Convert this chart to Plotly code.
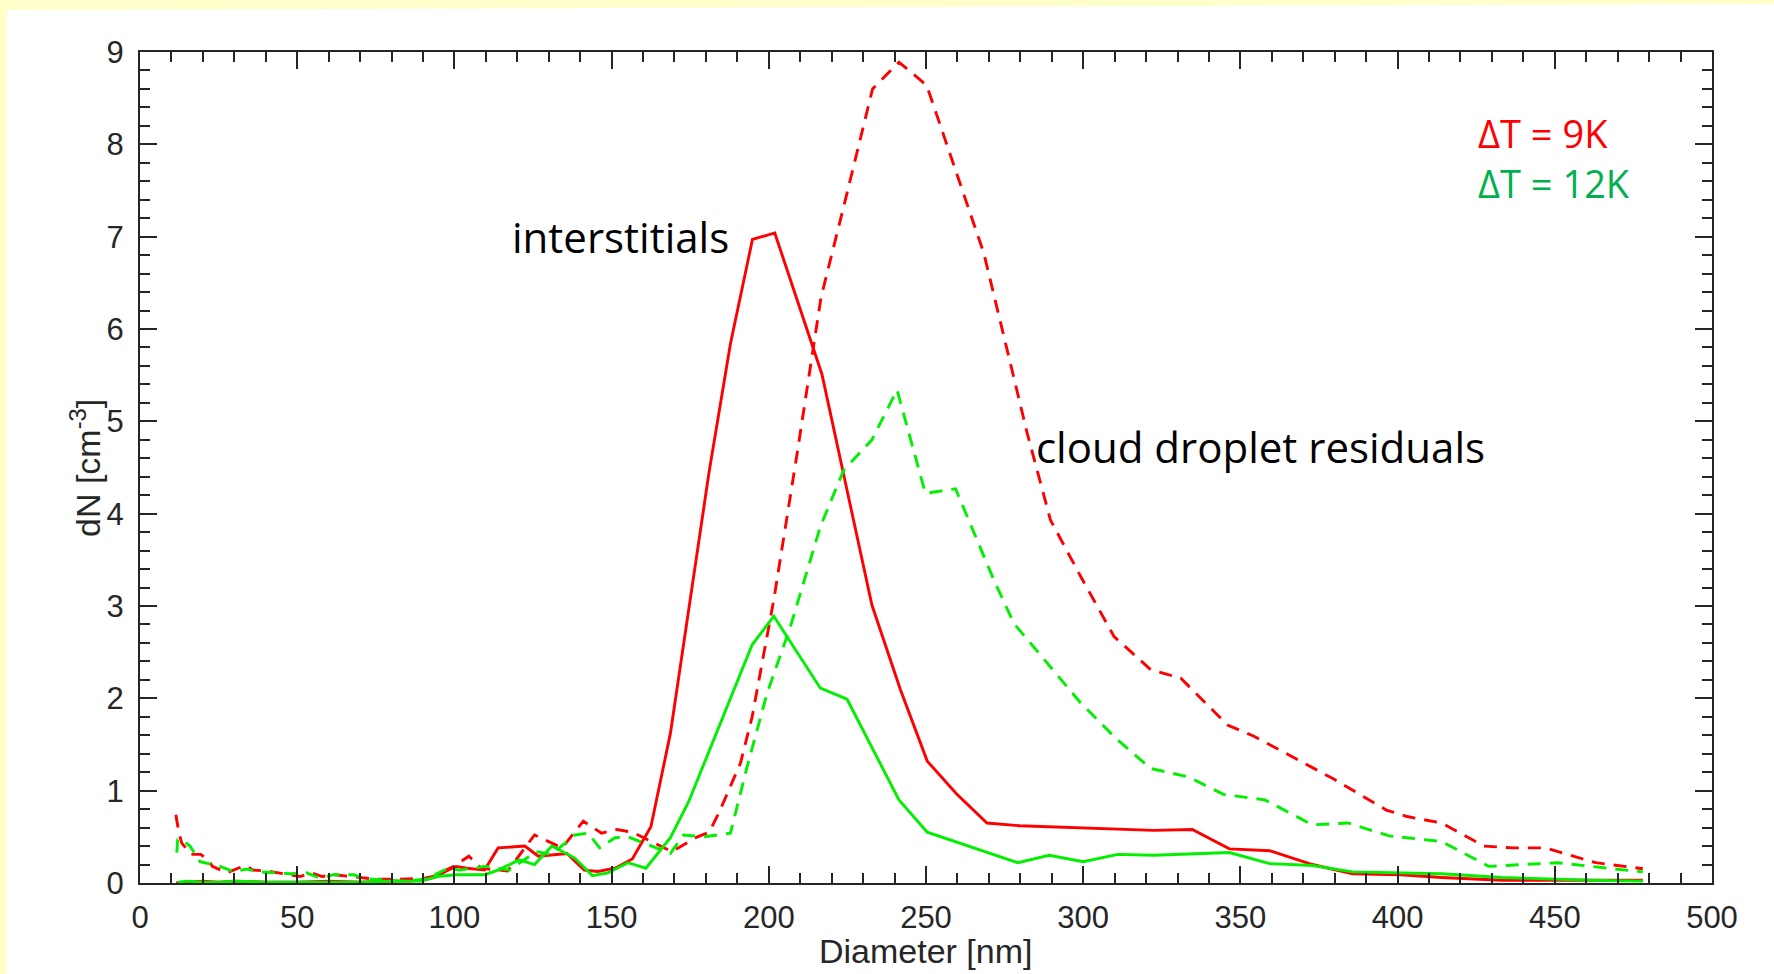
import plotly.graph_objects as go

# ---- data ----
d_red_int = [11.5, 15, 20, 25, 30, 40, 50, 60, 70, 80, 86, 90.7, 94.4, 98, 100.5, 104, 109.6, 113.9, 122.4, 126.7,
             135.8, 141.3, 145.6, 151.1, 156.6, 162.5, 168.7, 181.0, 187.8, 194.8, 201.9, 216.9, 232.8, 241.9, 250.4,
             259.6, 269.4, 279.8, 289.2, 303.3, 322.5, 334.7, 346.5, 359.3, 372.9, 385.7, 401.0, 414.0, 433.0, 455.0, 478.0]
n_red_int = [0.00, 0.01, 0.02, 0.01, 0.02, 0.01, 0.01, 0.02, 0.01, 0.02, 0.02, 0.035, 0.07, 0.14, 0.18, 0.16, 0.14, 0.38, 0.40, 0.29,
             0.32, 0.14, 0.125, 0.16, 0.26, 0.61, 1.62, 4.45, 5.84, 6.97, 7.04, 5.51, 3.01, 2.09, 1.32,
             0.97, 0.65, 0.62, 0.61, 0.59, 0.57, 0.58, 0.37, 0.35, 0.20, 0.10, 0.09, 0.06, 0.03, 0.03, 0.03]

d_green_int = [12, 15, 20, 25, 30, 40, 50, 60, 70, 80, 89.4, 94.4, 100.5, 109.6, 113.9, 120.6, 125.5, 131.0, 138.3, 143.9,
               148.8, 155.2, 160.9, 168.7, 174.5, 194.7, 201.6, 216.4, 224.9, 241.4, 250.4, 279.2, 289.2, 300.0, 311.0,
               322.5, 335.3, 346.5, 359.3, 372.9, 385.7, 414.0, 433.0, 461.0, 478.0]
n_green_int = [0.01, 0.02, 0.01, 0.01, 0.02, 0.01, 0.01, 0.01, 0.01, 0.02, 0.02, 0.07, 0.09, 0.09, 0.14, 0.25, 0.20, 0.40, 0.27, 0.08,
               0.11, 0.22, 0.16, 0.49, 0.88, 2.58, 2.89, 2.11, 1.99, 0.90, 0.55, 0.22, 0.30, 0.23, 0.31,
               0.30, 0.32, 0.33, 0.21, 0.19, 0.12, 0.10, 0.06, 0.03, 0.02]

d_red_cdr = [11.4, 12.4, 13.3, 16.3, 19.3, 21.7, 23.0, 27.6, 33.4, 36.0, 40.3, 46.7, 50.9, 54.6, 57.9, 61.6, 68.0, 75.3, 81.7, 90.0,
             93.3, 99.8, 104.6, 108.5, 116.9, 125.5, 134.3, 141.0, 146.8, 151.7, 156.6, 169.2, 177.3, 181.0, 184.0,
             191.0, 194.7, 201.6, 209.0, 216.6, 224.0, 233.0, 241.4, 250.2, 268.4, 275.8, 282.2, 289.6, 299.2, 309.8,
             321.5, 331.0, 345.9, 354.3, 369.0, 380.0, 396.4, 403.0, 414.0, 427.4, 436.8, 447.0, 463.0, 478.0]
n_red_cdr = [0.74, 0.54, 0.43, 0.31, 0.31, 0.25, 0.18, 0.11, 0.19, 0.14, 0.13, 0.09, 0.07, 0.11, 0.07, 0.09, 0.07, 0.04, 0.04, 0.05,
             0.07, 0.18, 0.29, 0.16, 0.13, 0.52, 0.38, 0.67, 0.54, 0.58, 0.55, 0.34, 0.50, 0.55, 0.75,
             1.30, 1.80, 3.07, 4.65, 6.34, 7.35, 8.60, 8.89, 8.64, 6.82, 5.77, 4.87, 3.93, 3.32, 2.67,
             2.31, 2.22, 1.71, 1.59, 1.32, 1.12, 0.79, 0.72, 0.65, 0.40, 0.38, 0.38, 0.22, 0.155]

d_green_cdr = [11.7, 12.0, 13.3, 15.9, 19.1, 25.5, 29.7, 34.0, 38.2, 42.4, 48.0, 53.0, 57.3, 61.6, 68.0, 71.0, 82.8, 90.7, 98.0, 101.7,
               109.6, 117.5, 126.0, 130.9, 138.3, 142.5, 146.2, 151.1, 155.3, 168.7, 172.9, 179.3, 187.8, 193.1, 199.5,
               206.9, 216.4, 223.8, 232.8, 240.8, 249.8, 259.4, 271.6, 278.0, 299.2, 310.9, 321.5, 333.4, 344.6, 357.8,
               372.9, 384.2, 397.3, 414.0, 429.0, 450.7, 478.0]
n_green_cdr = [0.33, 0.47, 0.47, 0.40, 0.23, 0.18, 0.125, 0.15, 0.12, 0.11, 0.10, 0.11, 0.05, 0.09, 0.09, 0.05, 0.02, 0.04, 0.16, 0.14,
               0.18, 0.14, 0.34, 0.31, 0.52, 0.54, 0.38, 0.49, 0.50, 0.32, 0.52, 0.50, 0.54, 1.26, 2.06,
               2.78, 3.86, 4.47, 4.80, 5.34, 4.22, 4.27, 3.28, 2.81, 1.95, 1.55, 1.24, 1.15, 0.96, 0.90,
               0.63, 0.65, 0.51, 0.45, 0.18, 0.22, 0.12]

x_ticks = [0, 50, 100, 150, 200, 250, 300, 350, 400, 450, 500]
y_ticks = [0, 1, 2, 3, 4, 5, 6, 7, 8, 9]

RED = "#FF0000"
GREEN = "#00F000"
AX = "#262626"
W = 1774
H = 974
L, R, T, B = 140, 62, 52, 91
PW = W - L - R
PH = H - T - B


def px(xpix):
    return (xpix - L) / PW


def py(ypix):
    return (H - B - ypix) / PH


fig = go.Figure()
dash = "13px,9px"
LW = 2.9
fig.add_trace(go.Scatter(x=d_red_cdr, y=n_red_cdr, mode="lines", line=dict(color=RED, width=LW, dash=dash)))
fig.add_trace(go.Scatter(x=d_red_int, y=n_red_int, mode="lines", line=dict(color=RED, width=LW)))
fig.add_trace(go.Scatter(x=d_green_cdr, y=n_green_cdr, mode="lines", line=dict(color=GREEN, width=LW, dash=dash)))
fig.add_trace(go.Scatter(x=d_green_int, y=n_green_int, mode="lines", line=dict(color=GREEN, width=LW)))

SANS = "Liberation Sans, Arial, sans-serif"
tickfont = dict(family=SANS, size=31, color=AX)
fig.update_xaxes(range=[0, 500], tickvals=x_ticks, ticks="inside", ticklen=17, tickwidth=2, tickcolor=AX,
                 showline=True, linewidth=2, linecolor=AX, mirror="ticks", showgrid=False, zeroline=False,
                 tickfont=tickfont, ticklabelstandoff=6,
                 minor=dict(dtick=10, ticks="inside", ticklen=10, tickwidth=2, tickcolor=AX, showgrid=False))
fig.update_yaxes(range=[0, 9], tickvals=y_ticks, ticks="inside", ticklen=17, tickwidth=2, tickcolor=AX,
                 showline=True, linewidth=2, linecolor=AX, mirror="ticks", showgrid=False, zeroline=False,
                 tickfont=tickfont, ticklabelstandoff=8,
                 minor=dict(dtick=0.2, ticks="inside", ticklen=10, tickwidth=2, tickcolor=AX, showgrid=False))

ann_font = "Open Sans, sans-serif"
annotations = [
    dict(text="interstitials", x=152.9, y=7.0, xref="x", yref="y", showarrow=False,
         font=dict(family=ann_font, size=42, color="black"), xanchor="center", yanchor="middle"),
    dict(text="cloud droplet residuals", x=356.3, y=4.73, xref="x", yref="y", showarrow=False,
         font=dict(family=ann_font, size=42, color="black"), xanchor="center", yanchor="middle"),
    dict(text="\u0394T = 9K", x=425.0, y=8.12, xref="x", yref="y", showarrow=False,
         font=dict(family=ann_font, size=38, color="#FF0000"), xanchor="left", yanchor="middle"),
    dict(text="\u0394T = 12K", x=425.0, y=7.58, xref="x", yref="y", showarrow=False,
         font=dict(family=ann_font, size=38, color="#00B050"), xanchor="left", yanchor="middle"),
    dict(text="Diameter [nm]", x=0.5, y=py(951), xref="paper", yref="paper", showarrow=False,
         font=dict(family=SANS, size=34, color=AX), xanchor="center", yanchor="middle"),
    dict(text="dN [cm<sup>-3</sup>]", x=px(86), y=py(468), xref="paper", yref="paper", showarrow=False,
         textangle=-90, font=dict(family=SANS, size=34, color=AX),
         xanchor="center", yanchor="middle"),
]

YEL = "#FFFFCC"
shapes = [
    dict(type="rect", xref="paper", yref="paper", x0=px(0), x1=px(7), y0=py(H), y1=py(0),
         fillcolor=YEL, line=dict(width=0), layer="below"),
    dict(type="path", xref="paper", yref="paper",
         path=f"M {px(0)},{py(0)} L {px(W)},{py(0)} L {px(W)},{py(4)} L {px(0)},{py(10)} Z",
         fillcolor=YEL, line=dict(width=0), layer="below"),
]

fig.update_layout(width=W, height=H, margin=dict(l=L, r=R, t=T, b=B, autoexpand=False),
                  paper_bgcolor="white", plot_bgcolor="white", showlegend=False,
                  annotations=annotations, shapes=shapes)

fig.write_html("out.html", config={"displayModeBar": False})

# remove the browser's default page margin so the figure sits at the window origin
with open("out.html", "r", encoding="utf-8") as f:
    html = f.read()
html = html.replace("<head>", "<head><style>html,body{margin:0;padding:0;overflow:hidden;}</style>", 1)
with open("out.html", "w", encoding="utf-8") as f:
    f.write(html)
